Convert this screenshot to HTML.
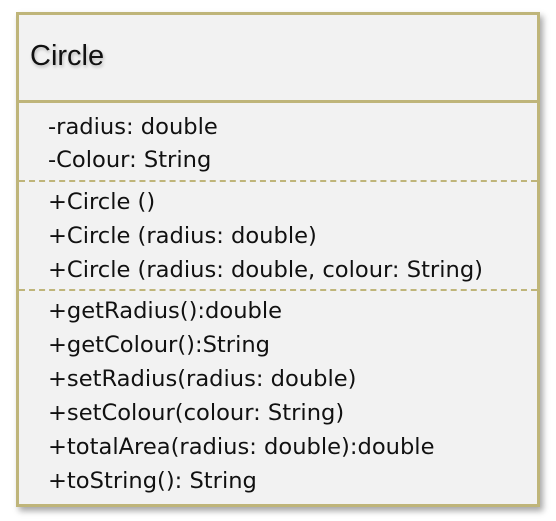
<!DOCTYPE html>
<html><head><meta charset="utf-8"><style>
body{margin:0;width:556px;height:521px;background:#fff;position:relative;overflow:hidden;font-family:"DejaVu Sans",sans-serif;color:#111}
.box{position:absolute;left:16px;top:12px;width:518px;height:489px;border:3px solid #bfb57a;background:#f2f2f2;box-shadow:3px 4px 6px rgba(0,0,0,0.35)}
.hd{position:absolute;left:0;top:0;width:518px;height:85px;border-bottom:3px solid #bfb57a}
.t{position:absolute;left:30px;white-space:nowrap;font-size:22.6px;line-height:24px}
.dash{position:absolute;left:19px;width:518px;border-top:2px dashed #bfb57a}
</style></head><body>
<div class="box"><div class="hd"></div></div>
<div class="t" style="left:30px;top:41px;font-family:'Liberation Sans',sans-serif;font-size:29px;line-height:30px;text-shadow:1px 2px 3px rgba(0,0,0,0.25)">Circle</div>
<div class="dash" style="top:180px"></div>
<div class="dash" style="top:289px"></div>
<div class="t" style="left:48px;top:115px">-radius: double</div>
<div class="t" style="left:48px;top:148px">-Colour: String</div>
<div class="t" style="left:48px;top:190px">+Circle ()</div>
<div class="t" style="left:48px;top:224px">+Circle (radius: double)</div>
<div class="t" style="left:48px;top:258px">+Circle (radius: double, colour: String)</div>
<div class="t" style="left:48px;top:299px">+getRadius():double</div>
<div class="t" style="left:48px;top:333px">+getColour():String</div>
<div class="t" style="left:48px;top:367px">+setRadius(radius: double)</div>
<div class="t" style="left:48px;top:401px">+setColour(colour: String)</div>
<div class="t" style="left:48px;top:435px">+totalArea(radius: double):double</div>
<div class="t" style="left:48px;top:469px">+toString(): String</div>
</body></html>
